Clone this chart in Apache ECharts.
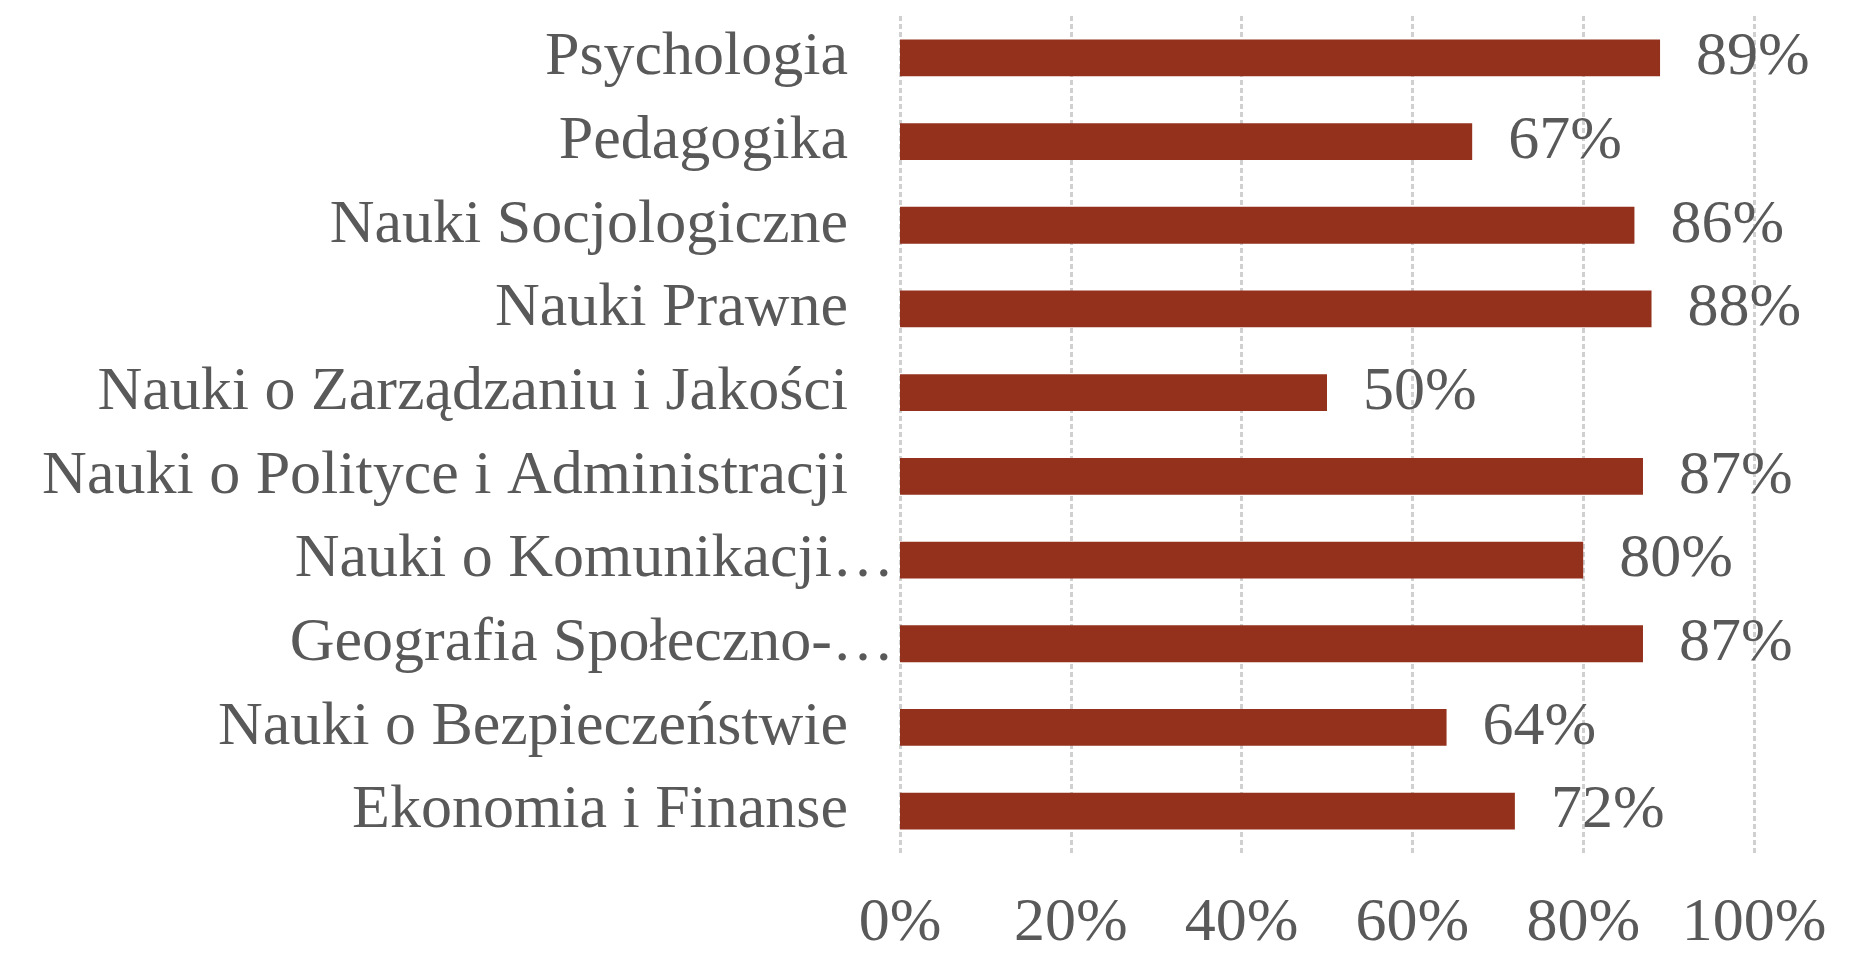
<!DOCTYPE html>
<html>
<head>
<meta charset="utf-8">
<script src="https://cdn.jsdelivr.net/npm/echarts@6/dist/echarts.min.js"></script>
<style>
  html, body { margin: 0; padding: 0; background: #ffffff; }
  #main { width: 1852px; height: 955px; }
</style>
</head>
<body>
<div id="main"></div>
<script>
// kategorie od dołu do góry (oś kategorii w ECharts rośnie w górę)
var categories = [
  'Ekonomia i Finanse',
  'Nauki o Bezpieczeństwie',
  'Geografia Społeczno-…',
  'Nauki o Komunikacji…',
  'Nauki o Polityce i Administracji',
  'Nauki o Zarządzaniu i Jakości',
  'Nauki Prawne',
  'Nauki Socjologiczne',
  'Pedagogika',
  'Psychologia'
]
var values = [72, 64, 87, 80, 87, 50, 88, 86, 67, 89]
var xTicks = [0, 20, 40, 60, 80, 100]

var chart = echarts.init(document.getElementById('main'))
var font = 'Liberation Serif'
var fs = 62
var option = {
  animation: false,
  grid: {
    left: 900,
    right: 98,
    top: 16,
    bottom: 95
  },
  xAxis: {
    type: 'value',
    min: xTicks[0],
    max: xTicks[xTicks.length - 1],
    interval: xTicks[1] - xTicks[0],
    axisLine: { show: false },
    axisTick: { show: false },
    axisLabel: {
      margin: 40,
      color: '#595959',
      fontFamily: font,
      fontSize: fs,
      formatter: '{value}%'
    },
    splitLine: {
      show: true,
      lineStyle: { color: '#d0d0d0', width: 3, type: [5, 3] }
    }
  },
  yAxis: {
    type: 'category',
    data: categories,
    axisLine: { show: false },
    axisTick: { show: false },
    axisLabel: {
      margin: 6,
      fontFamily: font,
      fontSize: fs,
      color: '#595959',
      formatter: function (v) {
        // skrócone etykiety sięgają aż do osi
        return v.slice(-1) === '…' ? '{t|' + v + '}' : '{n|' + v + '}'
      },
      rich: {
        t: { fontFamily: font, fontSize: fs, color: '#595959' },
        n: { fontFamily: font, fontSize: fs, color: '#595959', padding: [0, 46, 0, 0] }
      }
    }
  },
  series: [
    {
      type: 'bar',
      data: values,
      barWidth: '44%',
      itemStyle: { color: '#93311c' },
      label: {
        show: true,
        position: 'right',
        distance: 36,
        fontFamily: font,
        fontSize: fs,
        color: '#595959',
        formatter: '{c}%'
      }
    }
  ]
}
chart.setOption(option)
</script>
</body>
</html>
